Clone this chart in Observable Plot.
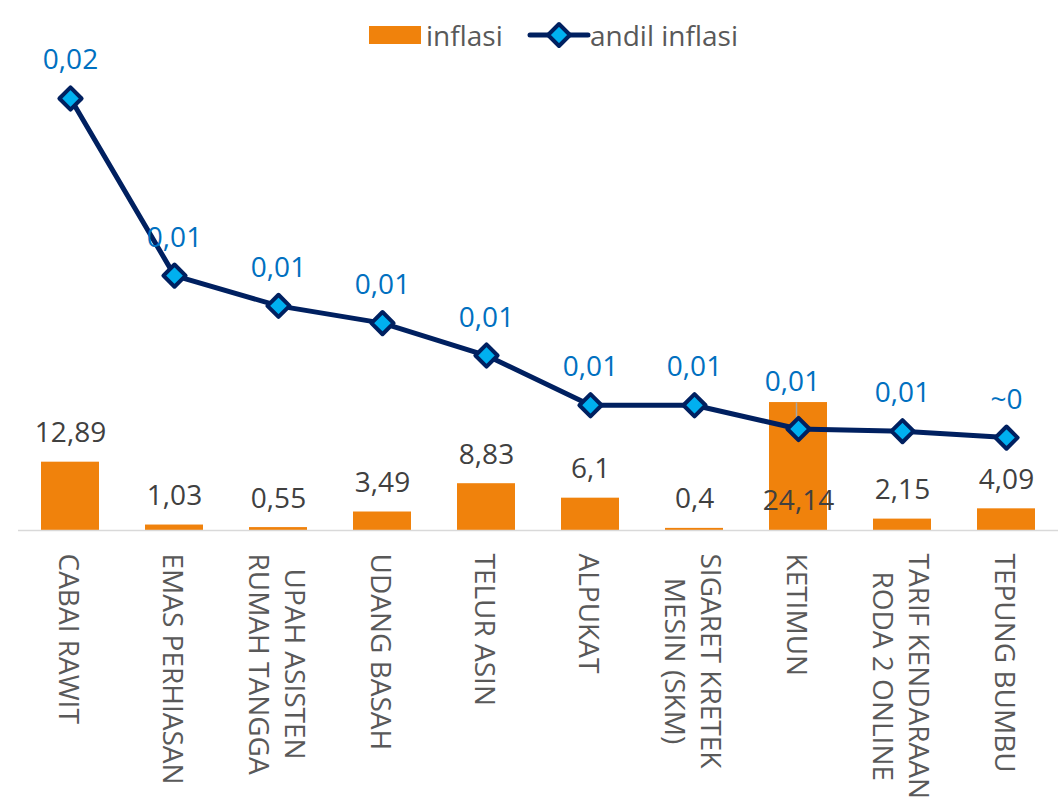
<!DOCTYPE html>
<html>
<head>
<meta charset="utf-8">
<script src="https://cdn.jsdelivr.net/npm/d3@7"></script>
<script src="https://cdn.jsdelivr.net/npm/@observablehq/plot@0.6"></script>
<style>
  body { margin: 0; background: #fff; font-family: 'Open Sans', sans-serif; }
  #wrap { position: relative; width: 1063px; height: 807px; overflow: hidden; }
  #chart { position: absolute; left: 0; top: 0; }
  .lg { position: absolute; font-size: 28px; color: #595959; line-height: 36px; top: 17px; white-space: nowrap; }
</style>
</head>
<body>
<div id="wrap">
  <div id="chart"></div>
  <div class="lg" style="left:369px;top:26px;width:52px;height:18px;background:#F0820C;"></div>
  <div class="lg" style="left:426px;">inflasi</div>
  <svg class="lg" style="left:526px;top:20px;" width="66" height="30">
    <line x1="4" y1="15" x2="62" y2="15" stroke="#002060" stroke-width="5" stroke-linecap="round"/>
    <polygon points="33,4 44,15 33,26 22,15" fill="#00B0F0" stroke="#002060" stroke-width="4" stroke-linejoin="round"/>
  </svg>
  <div class="lg" style="left:590px;">andil inflasi</div>
</div>
<script>
// ---- data ----
const categories = [
  "CABAI RAWIT", "EMAS PERHIASAN", "UPAH ASISTEN\nRUMAH TANGGA", "UDANG BASAH", "TELUR ASIN",
  "ALPUKAT", "SIGARET KRETEK\nMESIN (SKM)", "KETIMUN", "TARIF KENDARAAN\nRODA 2 ONLINE", "TEPUNG BUMBU"
];
const inflasi = [12.89, 1.03, 0.55, 3.49, 8.83, 6.1, 0.4, 24.14, 2.15, 4.09];
const andil = [0.0200, 0.0118, 0.0104, 0.0096, 0.0081, 0.0058, 0.0058, 0.0047, 0.0046, 0.0043];
const andilLabels = ["0,02", "0,01", "0,01", "0,01", "0,01", "0,01", "0,01", "0,01", "0,01", "~0"];

// ---- scales setup ----
const yMax = 94.34;          // primary axis (inflasi) top
const andilMax = 0.023148;   // secondary axis (andil) top
const k = yMax / andilMax;   // secondary -> primary mapping

const data = categories.map((c, i) => ({
  cat: c,
  inflasi: inflasi[i],
  andil: andil[i],
  andilY: andil[i] * k,
  label: String(inflasi[i]).replace(".", ","),
  andilLabel: andilLabels[i]
}));

const W = 1063, H = 807, mTop = 30, mBottom = 277;
const pxPerUnit = (H - mTop - mBottom) / yMax;

const ctx = document.createElement("canvas").getContext("2d");
ctx.font = "28px 'Open Sans'";
const catMarks = data.map(d => {
  const lines = d.cat.split("\n");
  const L = Math.max(...lines.map(s => ctx.measureText(s).width));
  return Plot.text([d], {
    x: "cat", text: "cat", frameAnchor: "bottom", dy: 23 + L / 2,
    rotate: 90, textAnchor: "middle", lineAnchor: "middle", lineHeight: 1.3,
    fontSize: 28, fill: "#595959"
  });
});

const special = "KETIMUN";
const chart = Plot.plot({
  width: W, height: H,
  marginLeft: 18, marginRight: 5, marginTop: mTop, marginBottom: mBottom,
  style: { fontFamily: "'Open Sans', sans-serif", background: "transparent", overflow: "visible" },
  x: { type: "band", domain: categories, paddingInner: 0.44, paddingOuter: 0.22, axis: null },
  y: { domain: [0, yMax], axis: null },
  marks: [
    Plot.barY(data, { x: "cat", y: "inflasi", fill: "#F0820C" }),
    Plot.ruleY([0], { stroke: "#D9D9D9", strokeWidth: 1.5 }),
    Plot.text(data.filter(d => d.cat !== special), {
      x: "cat", y: "inflasi", text: "label", dy: -29, fontSize: 28, fill: "#404040"
    }),
    Plot.text(data.filter(d => d.cat === special), {
      x: "cat", text: "label", frameAnchor: "bottom", lineAnchor: "middle", dy: -29, fontSize: 28, fill: "#404040"
    }),
    Plot.line(data, { x: "cat", y: "andilY", stroke: "#002060", strokeWidth: 5, strokeLinejoin: "round" }),
    Plot.ruleX(data.filter(d => d.cat === special), {
      x: "cat", y1: "andilY", y2: d => d.andilY + 26 / pxPerUnit, dx: -2, stroke: "#A6A6A6", strokeWidth: 1.5
    }),
    Plot.dot(data, {
      x: "cat", y: "andilY", symbol: "diamond2", r: 10,
      fill: "#00B0F0", stroke: "#002060", strokeWidth: 4, strokeLinejoin: "round"
    }),
    Plot.text(data.filter(d => d.cat !== special), {
      x: "cat", y: "andilY", text: "andilLabel", dy: -38, fontSize: 28, fill: "#0070C0"
    }),
    Plot.text(data.filter(d => d.cat === special), {
      x: "cat", y: "andilY", text: "andilLabel", dy: -47, dx: -6, fontSize: 28, fill: "#0070C0"
    }),
    ...catMarks
  ]
});
document.getElementById("chart").appendChild(chart);
</script>
</body>
</html>
